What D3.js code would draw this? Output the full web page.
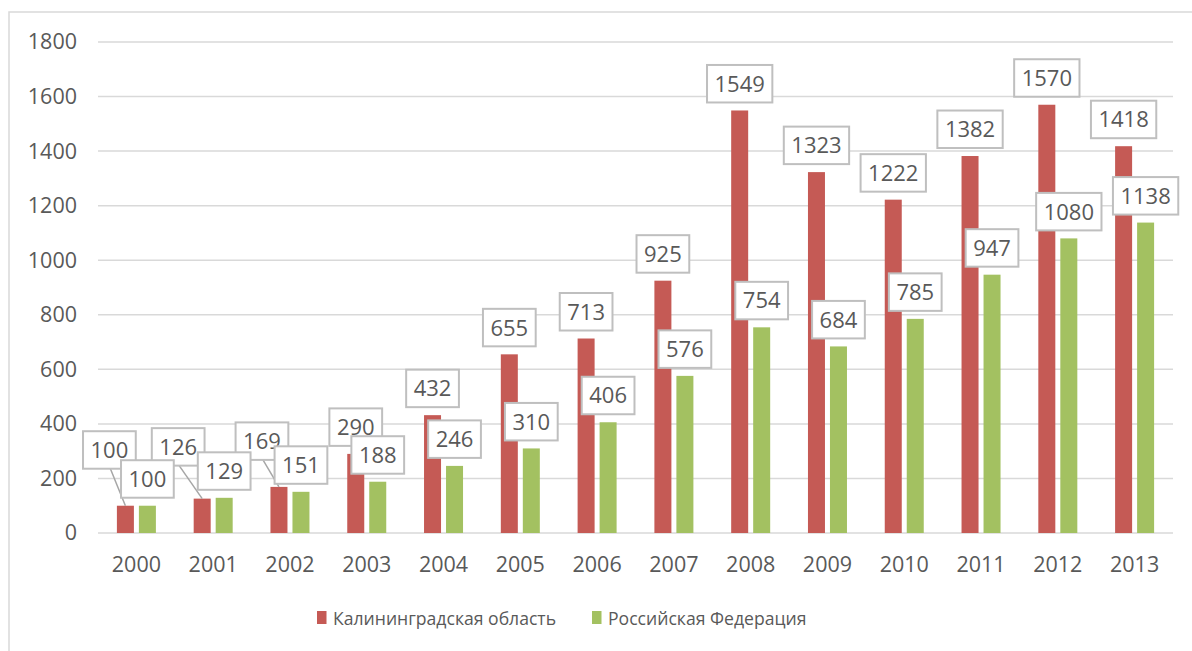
<!DOCTYPE html>
<html>
<head>
<meta charset="utf-8">
<script src="https://cdn.jsdelivr.net/npm/d3@7"></script>
<style>
  html, body { margin: 0; padding: 0; background: #fff; }
  #plot { width: 1192px; height: 651px; }
  text { font-family: "Open Sans", sans-serif; fill: #595959; }
</style>
</head>
<body>
<div id="plot"></div>
<script>
// chart data
const years = ['2000', '2001', '2002', '2003', '2004', '2005', '2006', '2007', '2008', '2009', '2010', '2011', '2012', '2013'];
const kaliningrad = [100, 126, 169, 290, 432, 655, 713, 925, 1549, 1323, 1222, 1382, 1570, 1418];
const russia = [100, 129, 151, 188, 246, 310, 406, 576, 754, 684, 785, 947, 1080, 1138];
const seriesNames = ['Калининградская область', 'Российская Федерация'];
const yTicks = [0, 200, 400, 600, 800, 1000, 1200, 1400, 1600, 1800];

// labels that were dragged away from their bars (px offsets, red series only)
const labelNudge = { '2000': [-16, -29], '2001': [-24, -25], '2002': [-17, -19] };

function drawChart() {
  const W = 1192, H = 651;
  const colors = ['#c55a55', '#a3c161'];
  const margin = { left: 98, right: 19, top: 42, bottom: 118 };
  const width = W - margin.left - margin.right;
  const height = H - margin.top - margin.bottom;
  const numFont = 'Open Sans, sans-serif';

  const svg = d3.select('#plot').append('svg').attr('width', W).attr('height', H);

  // outer frame
  svg.append('rect')
    .attr('x', 9).attr('y', 12)
    .attr('width', 1300).attr('height', 800)
    .attr('fill', 'none').attr('stroke', '#d9d9d9').attr('stroke-width', 1.5);

  const g = svg.append('g').attr('transform', `translate(${margin.left},${margin.top})`);

  const x = d3.scaleBand().domain(years).range([0, width]).padding(0);
  const y = d3.scaleLinear().domain([0, 1800]).range([height, 0]);

  // gridlines
  g.append('g')
    .selectAll('line')
    .data(yTicks)
    .enter()
    .append('line')
    .attr('x1', 0).attr('x2', width)
    .attr('y1', d => y(d)).attr('y2', d => y(d))
    .attr('stroke', '#d9d9d9').attr('stroke-width', 1.5);

  // y axis labels
  const yAxis = g.append('g').call(d3.axisLeft(y).tickValues(yTicks).tickFormat(d3.format('d')).tickSize(0).tickPadding(21));
  yAxis.select('.domain').remove();
  yAxis.selectAll('text').attr('font-size', '21.5px').attr('font-family', numFont).attr('fill', '#595959');

  // x axis labels
  const xAxis = g.append('g').attr('transform', `translate(0,${height})`)
    .call(d3.axisBottom(x).tickSize(0).tickPadding(24));
  xAxis.select('.domain').remove();
  xAxis.selectAll('text').attr('font-size', '21.5px').attr('font-family', numFont).attr('fill', '#595959');

  const barW = 17, gap = 5;
  const series = [kaliningrad, russia];
  const barX = (i, s) => x(years[i]) + x.bandwidth() / 2 + (s === 0 ? -gap / 2 - barW : gap / 2);

  series.forEach((vals, s) => {
    g.append('g').selectAll('rect')
      .data(vals)
      .enter()
      .append('rect')
      .attr('x', (d, i) => barX(i, s))
      .attr('y', d => y(d))
      .attr('width', barW)
      .attr('height', d => height - y(d))
      .attr('fill', colors[s]);
  });

  // data labels
  const boxH = 37.5;
  const labelLayer = g.append('g');
  series.forEach((vals, s) => {
    vals.forEach((v, i) => {
      const cx0 = barX(i, s) + barW / 2;
      const top = y(v);
      let cx = cx0, cy = top - 8 - boxH / 2;
      const nudge = s === 0 ? labelNudge[years[i]] : null;
      if (nudge) {
        cx += nudge[0];
        cy += nudge[1];
        labelLayer.append('line')
          .attr('x1', cx + 1).attr('y1', cy + boxH / 2)
          .attr('x2', cx0).attr('y2', top)
          .attr('stroke', '#a6a6a6').attr('stroke-width', 1.5);
      }
      const lg = labelLayer.append('g').attr('transform', `translate(${cx},${cy})`);
      const box = lg.append('rect');
      const t = lg.append('text')
        .attr('text-anchor', 'middle')
        .attr('dy', '0.36em')
        .attr('font-size', '22px')
        .attr('font-family', numFont)
        .text(v);
      const tw = t.node().getComputedTextLength();
      box.attr('x', -(tw + 15) / 2).attr('y', -boxH / 2)
        .attr('width', tw + 15).attr('height', boxH)
        .attr('fill', '#fff').attr('stroke', '#bfbfbf').attr('stroke-width', 2);
    });
  });

  // legend
  const legendX = [317, 592];
  const legend = svg.append('g');
  seriesNames.forEach((name, s) => {
    legend.append('rect')
      .attr('x', legendX[s]).attr('y', 611)
      .attr('width', 9.5).attr('height', 13)
      .attr('fill', colors[s]);
    legend.append('text')
      .attr('x', legendX[s] + 16).attr('y', 625)
      .attr('font-size', '17.6px')
      .attr('font-family', 'Lato, sans-serif')
      .text(name);
  });
}

drawChart();
</script>
</body>
</html>
